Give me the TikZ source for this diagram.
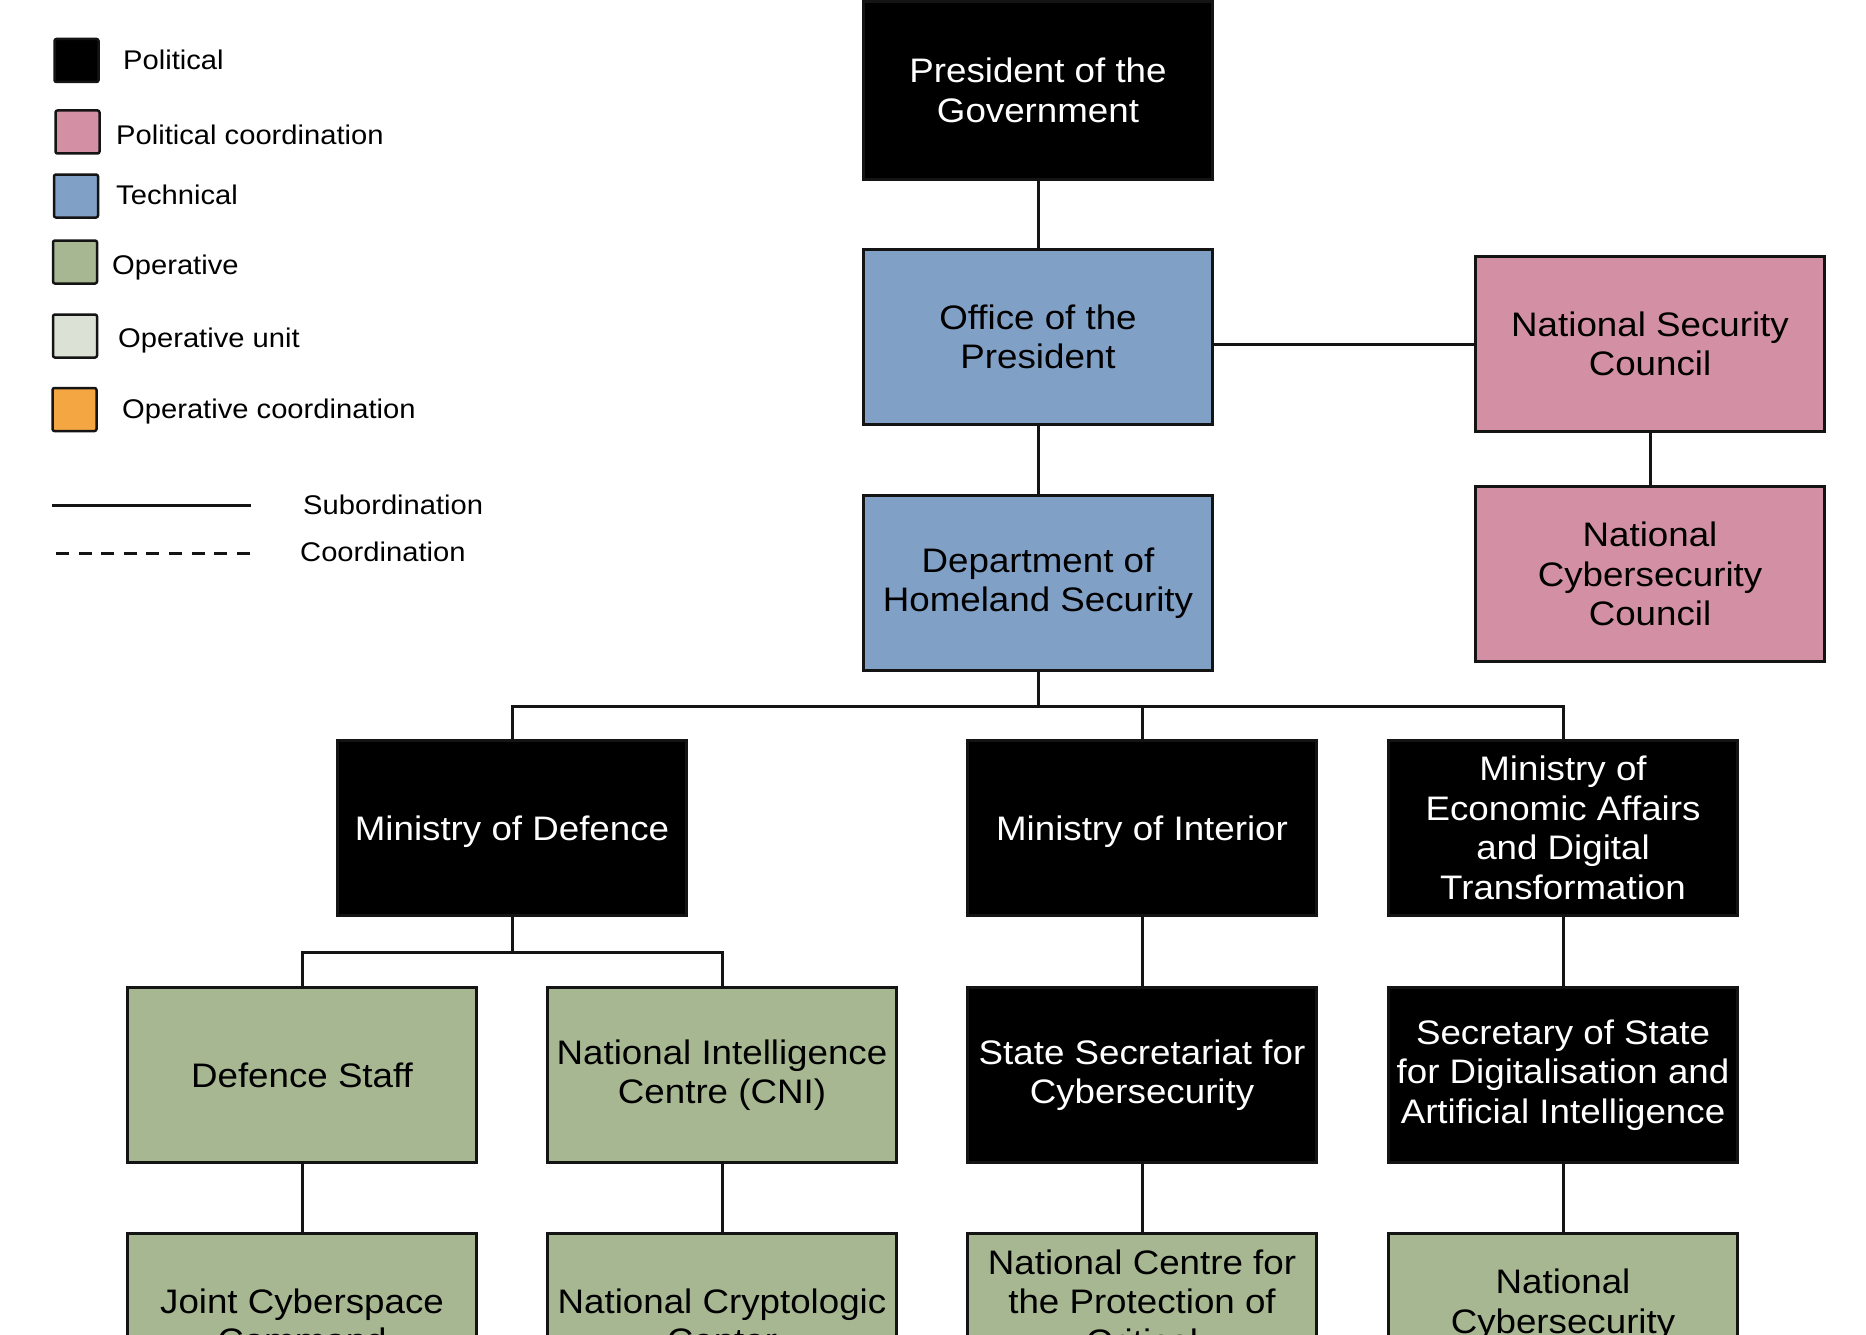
\documentclass[tikz,border=0pt]{standalone}
\usepackage{fontspec}
\setmainfont{Liberation Sans}[FakeStretch=1.08]
\usetikzlibrary{calc}
\definecolor{pinkc}{RGB}{211,144,165}
\definecolor{bluec}{RGB}{129,160,198}
\definecolor{greenc}{RGB}{167,183,146}
\definecolor{unitc}{RGB}{219,226,213}
\definecolor{orangec}{RGB}{244,166,67}
\definecolor{linec}{RGB}{20,20,20}
\newcommand\bxfont{\fontsize{34}{39.5}\selectfont}
\newcommand\lgfont{\fontsize{27}{32}\selectfont}
\tikzset{
  orgbox/.style={draw=linec, line width=3pt, minimum width=349pt, minimum height=175pt, inner sep=0pt, align=center, font=\bxfont},
  polbox/.style={orgbox, fill=black, text=white},
  pcobox/.style={orgbox, fill=pinkc, text=black},
  tecbox/.style={orgbox, fill=bluec, text=black},
  opbox/.style={orgbox, fill=greenc, text=black},
  link/.style={draw=linec, line width=3pt},
  coordlink/.style={draw=linec, line width=3pt, dash pattern=on 13pt off 9.6pt},
  lgsq/.style={draw=linec, line width=2.5pt, rounded corners=2pt, minimum width=44pt, minimum height=43pt, inner sep=0pt},
  lgtxt/.style={anchor=west, inner sep=0pt, font=\lgfont, text height=19.5pt, text depth=0pt}
}
\begin{document}
\begin{tikzpicture}[x=1pt,y=-1pt]
\useasboundingbox (0,0) rectangle (1866,1335);
\clip (0,0) rectangle (1866,1335);

% legend
\node[lgsq, fill=black] (lq1) at (76.5,60.5) {};
\node[lgtxt] (lt1) at (123,59.5) {Political};
\node[lgsq, fill=pinkc] (lq2) at (77.5,132) {};
\node[lgtxt] (lt2) at (116,135) {Political coordination};
\node[lgsq, fill=bluec] (lq3) at (76,196) {};
\node[lgtxt] (lt3) at (116,195) {Technical};
\node[lgsq, fill=greenc] (lq4) at (75,262) {};
\node[lgtxt] (lt4) at (112,265) {Operative};
\node[lgsq, fill=unitc] (lq5) at (75,336) {};
\node[lgtxt] (lt5) at (118,338) {Operative unit};
\node[lgsq, fill=orangec] (lq6) at (74.5,409.5) {};
\node[lgtxt] (lt6) at (122,409) {Operative coordination};
\coordinate (ls1) at (52,505);
\coordinate (ls2) at (251,505);
\draw[link] (ls1) -- (ls2);
\node[lgtxt] (lt7) at (303,505) {Subordination};
\coordinate (lc1) at (56,553);
\coordinate (lc2) at (251,553);
\draw[coordlink] (lc1) -- (lc2);
\node[lgtxt] (lt8) at (300,552) {Coordination};

% main boxes
\node[polbox, minimum height=177pt] (pres) at (1038,90.5) {President of the\\Government};
\node[tecbox] (office) at (1038,337) {Office of the\\President};
\node[tecbox] (dhs) at (1038,583) {Department of\\Homeland Security};
\node[pcobox] (nsc) at (1650,344) {National Security\\Council};
\node[pcobox] (ncc) at (1650,574) {National\\Cybersecurity\\Council};

\node[polbox, text depth=0pt] (mod) at (512,828) {Ministry of Defence};
\node[polbox, text depth=0pt] (moi) at (1142,828) {Ministry of Interior};
\node[polbox] (mea) at (1563,828) {Ministry of\\Economic Affairs\\and Digital\\Transformation};

\node[opbox] (dstaff) at (302,1075) {Defence Staff};
\node[opbox] (cni) at (722,1075) {National Intelligence\\Centre (CNI)};
\node[polbox] (ssc) at (1142,1075) {State Secretariat for\\Cybersecurity};
\node[polbox] (ssd) at (1563,1075) {Secretary of State\\for Digitalisation and\\Artificial Intelligence};

\node[opbox] (jcc) at (302,1321) {Joint Cyberspace\\Command};
\node[opbox] (crypto) at (722,1321) {National Cryptologic\\Center};
\node[opbox] (cnpic) at (1142,1321) {National Centre for\\the Protection of\\Critical\\\mbox{}};
\node[opbox] (incibe) at (1563,1321) {National\\Cybersecurity\\\mbox{}};

% connectors
\draw[link] (pres) -- (office);
\draw[link] (office) -- (dhs);
\draw[link] (office.east |- nsc.west) -- (nsc.west);
\draw[link] (nsc) -- (ncc);

\coordinate (busy) at (0,706);
\draw[link] (dhs.south) -- (dhs.south |- busy);
\draw[link] (mod.north) |- (mea.north |- busy) -- (mea.north);
\draw[link] (moi.north) -- (moi.north |- busy);

\coordinate (dbus) at (0,952);
\draw[link] (mod.south) -- (mod.south |- dbus);
\draw[link] (dstaff.north) |- (cni.north |- dbus) -- (cni.north);

\draw[link] (moi) -- (ssc);
\draw[link] (mea) -- (ssd);
\draw[link] (dstaff) -- (jcc);
\draw[link] (cni) -- (crypto);
\draw[link] (ssc) -- (cnpic);
\draw[link] (ssd) -- (incibe);
\end{tikzpicture}
\end{document}
